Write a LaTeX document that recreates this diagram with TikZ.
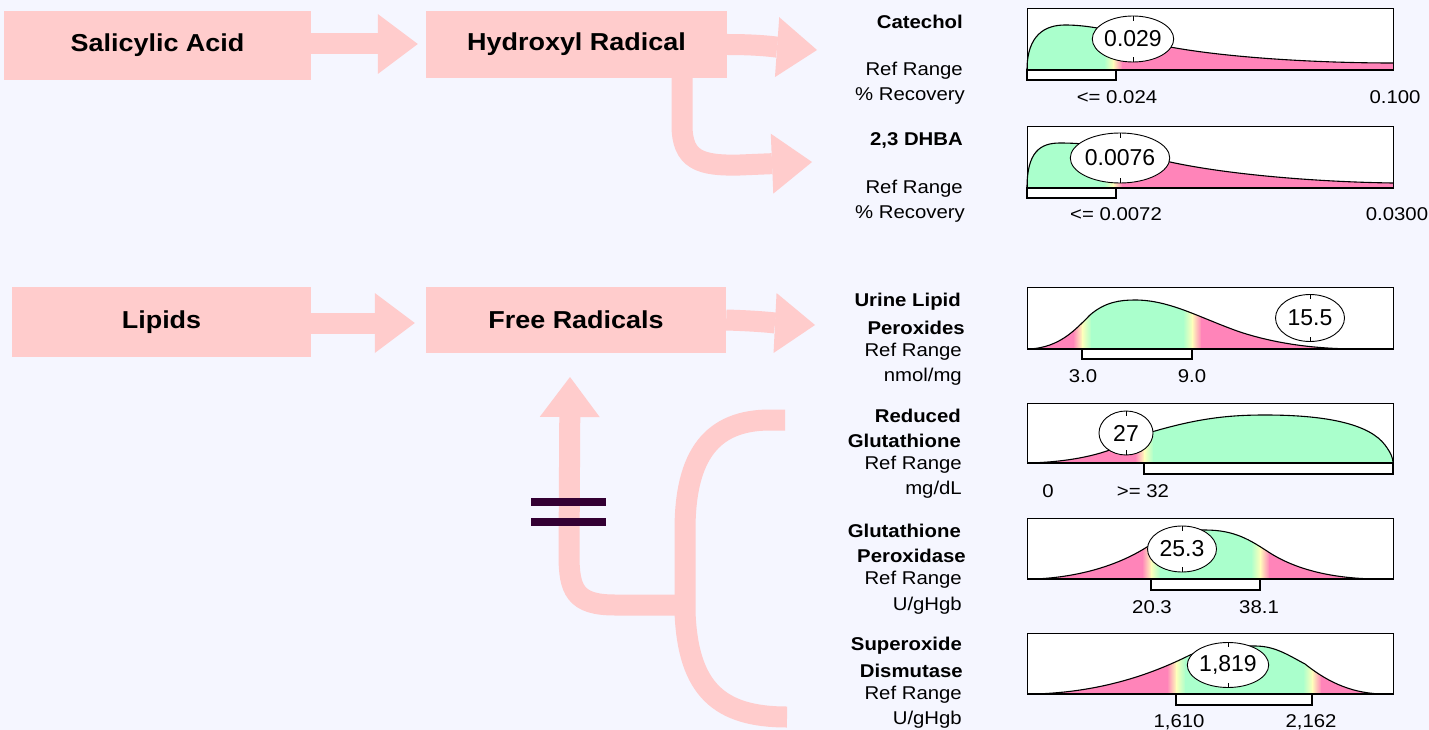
\documentclass[tikz,border=0pt]{standalone}
\usepackage{fontspec}
\setmainfont{Liberation Sans}[FakeStretch=1.1]
\newfontfamily\valfont{Liberation Sans}
\usetikzlibrary{arrows.meta,shapes.geometric}
\definecolor{bg}{RGB}{245,246,255}
\definecolor{pinkc}{RGB}{255,204,204}
\definecolor{gr}{RGB}{170,255,204}
\definecolor{pk}{RGB}{255,132,185}
\definecolor{yl}{RGB}{255,255,187}
\definecolor{eqc}{RGB}{51,0,51}
\tikzset{
 pbox/.style={fill=pinkc, inner sep=0, font=\bfseries\fontsize{24.5}{28}\selectfont},
 barrow/.style={draw=pinkc, line width=21pt, -{Triangle[length=40pt,width=60pt,line width=0pt]}},
 band/.style={draw=pinkc, line width=21pt},
 lbl/.style={anchor=east, inner sep=0, font=\fontsize{18.5}{22}\selectfont},
 blbl/.style={anchor=east, inner sep=0, font=\bfseries\fontsize{18.5}{22}\selectfont},
 axlbl/.style={inner sep=0, font=\fontsize{18.5}{22}\selectfont},
 valell/.style={ellipse, draw=black, fill=white, line width=0.9pt, inner sep=0, font=\valfont\fontsize{23}{26}\selectfont},
 frame/.style={draw=black, line width=0.9pt},
 curve/.style={draw=black, line width=1.1pt},
 rbar/.style={draw=black, fill=white, line width=2pt},
 tickmark/.style={draw=black, line width=0.8pt},
}
\newcommand\solidband[3]{\fill[#3] (#1,\pT) rectangle (#2,\pB);}
\newcommand\gradband[4]{\shade[left color=#3,right color=#4] (#1,\pT) rectangle (#2,\pB);}
\newcommand\chartbox{%
 \draw[frame] (1027,\pT) rectangle (1393,\pB);
 \draw[line width=2pt] (1027,\pB) -- (1393,\pB);}
\begin{document}
\begin{tikzpicture}[x=1pt,y=-1pt]
\useasboundingbox (0,0) rectangle (1429,730);
\fill[bg] (0,0) rectangle (1429,730);

% ---- flow boxes
\node[pbox, minimum width=307pt, minimum height=69pt] (sal) at (157.5,45.5) {Salicylic Acid};
\node[pbox, minimum width=301pt, minimum height=67pt] (hyd) at (576.5,44.5) {Hydroxyl Radical};
\node[pbox, minimum width=299pt, minimum height=70pt] (lip) at (161.5,322) {Lipids};
\node[pbox, minimum width=300pt, minimum height=66pt] (fr) at (576,320) {Free Radicals};

\coordinate (c1) at (817,50);
\coordinate (c2) at (812,162);
\coordinate (c3) at (815,325);
\coordinate (upt) at (570,377);
\coordinate (j) at (685,605);
\coordinate (bt) at (785,420);
\coordinate (bb) at (787,717);

\draw[barrow, shorten >=8pt] (sal.east |- 0,44) -- (hyd.west |- 0,44);
\draw[barrow] (hyd.east) .. controls (760,44.5) and (775,47) .. (c1);
\draw[barrow] ([xshift=-45pt]hyd.south east) -- (682,125) .. controls (682,160) and (700,166) .. (740,165) -- (c2);
\draw[barrow, shorten >=11pt] (lip.east |- 0,323) -- (fr.west |- 0,323);
\draw[barrow] (fr.east) .. controls (760,321) and (775,323) .. (c3);

% bracket and up arrow
\draw[band] (bt) -- (770,420) .. controls (712,420) and (685,455) .. (685,530) -- (j) -- (685,612) .. controls (688,690) and (720,717) .. (bb);
\draw[barrow] (j) -- (615,605) .. controls (575,605) and (569,590) .. (569,555) -- (upt);

% equal sign
\fill[eqc] (531,498) rectangle (606,506);
\fill[eqc] (531,518) rectangle (606,526);

% ---- Panel 1: Catechol
\def\pT{8}\def\pB{70}
\fill[white] (1027,\pT) rectangle (1393,\pB);
\begin{scope}
\clip (1027,70) .. controls (1027,35) and (1045,25) .. (1065,25) .. controls (1100,25) and (1140,38) .. (1170,47) .. controls (1230,58) and (1320,63) .. (1393,63) -- (1393,70) -- cycle;
\solidband{1027}{1104.5}{gr}\gradband{1104}{1113.5}{gr}{yl}\gradband{1113}{1122.5}{yl}{pk}\solidband{1122}{1393}{pk}
\end{scope}
\draw[curve] (1027,70) .. controls (1027,35) and (1045,25) .. (1065,25) .. controls (1100,25) and (1140,38) .. (1170,47) .. controls (1230,58) and (1320,63) .. (1393,63);
\chartbox
\draw[rbar] (1027,70) rectangle (1116,80);
\node[valell, minimum width=79pt, minimum height=46pt] (v1) at (1133,39) {0.029};
\draw[tickmark] (v1.north) -- ++(0,5) (v1.south) -- ++(0,-5);
\node[blbl] (t1) at (963,22) {Catechol};
\node[lbl] (r1) at (963,71) {Ref Range};
\node[lbl] (u1) at (965,96) {\% Recovery};
\node[axlbl] (a1) at (1117,97) {<= 0.024};
\node[axlbl] (b1) at (1395,97) {0.100};

% ---- Panel 2: 2,3 DHBA
\def\pT{126}\def\pB{188}
\fill[white] (1027,\pT) rectangle (1393,\pB);
\begin{scope}
\clip (1027,188) .. controls (1027,152) and (1040,143) .. (1060,143) .. controls (1100,143) and (1140,152) .. (1170,162) .. controls (1230,175) and (1320,182) .. (1393,183) -- (1393,188) -- cycle;
\solidband{1027}{1104.5}{gr}\gradband{1104}{1113.5}{gr}{yl}\gradband{1113}{1122.5}{yl}{pk}\solidband{1122}{1393}{pk}
\end{scope}
\draw[curve] (1027,188) .. controls (1027,152) and (1040,143) .. (1060,143) .. controls (1100,143) and (1140,152) .. (1170,162) .. controls (1230,175) and (1320,182) .. (1393,183);
\chartbox
\draw[rbar] (1027,188) rectangle (1116,198);
\node[valell, minimum width=89pt, minimum height=50pt] (v2) at (1120,158) {0.0076};
\draw[tickmark] (v2.north) -- ++(0,5) (v2.south) -- ++(0,-5);
\node[blbl] (t2) at (963,140) {2,3 DHBA};
\node[lbl] (r2) at (963,189) {Ref Range};
\node[lbl] (u2) at (965,214) {\% Recovery};
\node[axlbl] (a2) at (1116,214) {<= 0.0072};
\node[axlbl] (b2) at (1397,214) {0.0300};

% ---- Panel 3: Urine Lipid Peroxides
\def\pT{287}\def\pB{349}
\fill[white] (1027,\pT) rectangle (1393,\pB);
\begin{scope}
\clip (1030,349) .. controls (1060,347) and (1075,330) .. (1090,315) .. controls (1105,302) and (1120,300) .. (1135,300) .. controls (1170,300) and (1200,318) .. (1240,332) .. controls (1280,345) and (1320,349) .. (1360,349) -- cycle;
\solidband{1027}{1073.5}{pk}\gradband{1073}{1082.5}{pk}{yl}\gradband{1082}{1091.5}{yl}{gr}\solidband{1091}{1183.5}{gr}\gradband{1183}{1192.5}{gr}{yl}\gradband{1192}{1201.5}{yl}{pk}\solidband{1201}{1393}{pk}
\end{scope}
\draw[curve] (1027,349) -- (1030,349) .. controls (1060,347) and (1075,330) .. (1090,315) .. controls (1105,302) and (1120,300) .. (1135,300) .. controls (1170,300) and (1200,318) .. (1240,332) .. controls (1280,345) and (1320,349) .. (1360,349);
\chartbox
\draw[rbar] (1082,349) rectangle (1192,359);
\node[valell, minimum width=69pt, minimum height=47pt] (v3) at (1310,318) {15.5};
\draw[tickmark] (v3.north) -- ++(0,5) (v3.south) -- ++(0,-5);
\node[blbl] (t3a) at (961,302) {Urine Lipid};
\node[blbl] (t3b) at (965,328) {Peroxides};
\node[lbl] (r3) at (962,352) {Ref Range};
\node[lbl] (u3) at (962,377) {nmol/mg};
\node[axlbl] (a3) at (1083,376) {3.0};
\node[axlbl] (b3) at (1192,376) {9.0};

% ---- Panel 4: Reduced Glutathione
\def\pT{403}\def\pB{463}
\fill[white] (1027,\pT) rectangle (1393,\pB);
\begin{scope}
\clip (1030,463) .. controls (1060,462) and (1090,458) .. (1115,448) .. controls (1130,440) and (1140,434) .. (1155,431) .. controls (1200,418) and (1230,415) .. (1265,415) .. controls (1330,415) and (1370,425) .. (1385,445) .. controls (1391,453) and (1393,458) .. (1393,463) -- cycle;
\solidband{1027}{1135.5}{pk}\gradband{1135}{1144.5}{pk}{yl}\gradband{1144}{1153.5}{yl}{gr}\solidband{1153}{1393}{gr}
\end{scope}
\draw[curve] (1027,463) -- (1030,463) .. controls (1060,462) and (1090,458) .. (1115,448) .. controls (1130,440) and (1140,434) .. (1155,431) .. controls (1200,418) and (1230,415) .. (1265,415) .. controls (1330,415) and (1370,425) .. (1385,445) .. controls (1391,453) and (1393,458) .. (1393,463);
\chartbox
\draw[rbar] (1144,463) rectangle (1393,474);
\node[valell, minimum width=54pt, minimum height=44pt] (v4) at (1126,433) {27};
\draw[tickmark] (v4.north) -- ++(0,5) (v4.south) -- ++(0,-5);
\node[blbl] (t4a) at (961,416) {Reduced};
\node[blbl] (t4b) at (961,441) {Glutathione};
\node[lbl] (r4) at (962,465) {Ref Range};
\node[lbl] (u4) at (962,490) {mg/dL};
\node[axlbl] (a4) at (1048,491) {0};
\node[axlbl] (b4) at (1143,491) {>= 32};

% ---- Panel 5: Glutathione Peroxidase
\def\pT{518}\def\pB{579}
\fill[white] (1027,\pT) rectangle (1393,\pB);
\begin{scope}
\clip (1035,579) .. controls (1080,577) and (1120,565) .. (1150,545) .. controls (1170,532) and (1185,530) .. (1205,530) .. controls (1235,530) and (1250,540) .. (1270,553) .. controls (1300,572) and (1340,579) .. (1380,579) -- cycle;
\solidband{1027}{1142.5}{pk}\gradband{1142}{1151.5}{pk}{yl}\gradband{1151}{1160.5}{yl}{gr}\solidband{1160}{1251.5}{gr}\gradband{1251}{1260.5}{gr}{yl}\gradband{1260}{1269.5}{yl}{pk}\solidband{1269}{1393}{pk}
\end{scope}
\draw[curve] (1027,579) -- (1035,579) .. controls (1080,577) and (1120,565) .. (1150,545) .. controls (1170,532) and (1185,530) .. (1205,530) .. controls (1235,530) and (1250,540) .. (1270,553) .. controls (1300,572) and (1340,579) .. (1380,579);
\chartbox
\draw[rbar] (1151,579) rectangle (1260,590);
\node[valell, minimum width=69pt, minimum height=46pt] (v5) at (1182,549) {25.3};
\draw[tickmark] (v5.north) -- ++(0,5) (v5.south) -- ++(0,-5);
\node[blbl] (t5a) at (961,531) {Glutathione};
\node[blbl] (t5b) at (966,556) {Peroxidase};
\node[lbl] (r5) at (962,580) {Ref Range};
\node[lbl] (u5) at (962,606) {U/gHgb};
\node[axlbl] (a5) at (1152,607) {20.3};
\node[axlbl] (b5) at (1259,607) {38.1};

% ---- Panel 6: Superoxide Dismutase
\def\pT{633}\def\pB{694}
\fill[white] (1027,\pT) rectangle (1393,\pB);
\begin{scope}
\clip (1035,694) .. controls (1100,692) and (1150,675) .. (1190,655) .. controls (1210,647) and (1230,646) .. (1255,646) .. controls (1275,646) and (1288,655) .. (1305,664) .. controls (1330,684) and (1355,694) .. (1385,694) -- cycle;
\solidband{1027}{1167.5}{pk}\gradband{1167}{1176.5}{pk}{yl}\gradband{1176}{1185.5}{yl}{gr}\solidband{1185}{1303.5}{gr}\gradband{1303}{1312.5}{gr}{yl}\gradband{1312}{1321.5}{yl}{pk}\solidband{1321}{1393}{pk}
\end{scope}
\draw[curve] (1027,694) -- (1035,694) .. controls (1100,692) and (1150,675) .. (1190,655) .. controls (1210,647) and (1230,646) .. (1255,646) .. controls (1275,646) and (1288,655) .. (1305,664) .. controls (1330,684) and (1355,694) .. (1385,694);
\chartbox
\draw[rbar] (1176,694) rectangle (1312,705);
\node[valell, minimum width=80pt, minimum height=45pt] (v6) at (1228,665) {1,819};
\draw[tickmark] (v6.north) -- ++(0,5) (v6.south) -- ++(0,-5);
\node[blbl] (t6a) at (962,646) {Superoxide};
\node[blbl] (t6b) at (963,671) {Dismutase};
\node[lbl] (r6) at (962,695) {Ref Range};
\node[lbl] (u6) at (962,720) {U/gHgb};
\node[axlbl] (a6) at (1179,722) {1,610};
\node[axlbl] (b6) at (1311,722) {2,162};
\end{tikzpicture}
\end{document}
